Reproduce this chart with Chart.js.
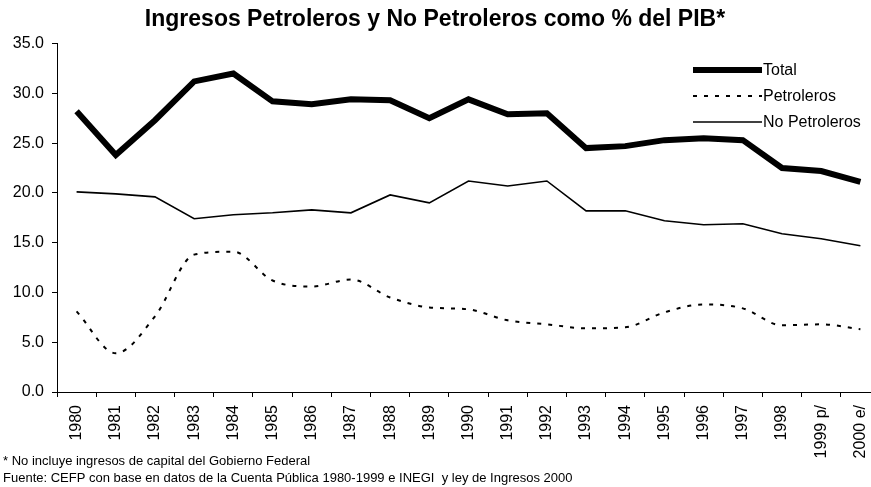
<!DOCTYPE html>
<html>
<head>
<meta charset="utf-8">
<script src="https://cdn.jsdelivr.net/npm/chart.js@4/dist/chart.umd.min.js"></script>
<style>
  html, body { margin: 0; padding: 0; background: #fff; overflow: hidden; }
  #wrap { width: 871px; height: 487px; position: relative; overflow: hidden; }
</style>
</head>
<body>
<div id="wrap"><canvas id="c" width="890" height="487"></canvas></div>
<script>
const categories = ['1980','1981','1982','1983','1984','1985','1986','1987','1988','1989','1990','1991','1992','1993','1994','1995','1996','1997','1998','1999 p/','2000 e/'];
const total = [28.2, 23.8, 27.3, 31.2, 32.0, 29.2, 28.9, 29.4, 29.3, 27.5, 29.4, 27.9, 28.0, 24.5, 24.7, 25.3, 25.5, 25.3, 22.5, 22.2, 21.1];
const petroleros = [8.1, 3.9, 7.6, 13.8, 14.1, 11.2, 10.6, 11.3, 9.5, 8.5, 8.3, 7.2, 6.8, 6.4, 6.5, 8.0, 8.8, 8.4, 6.7, 6.8, 6.3];
const noPetroleros = [20.1, 19.9, 19.6, 17.4, 17.8, 18.0, 18.3, 18.0, 19.8, 19.0, 21.2, 20.7, 21.2, 18.2, 18.2, 17.2, 16.8, 16.9, 15.9, 15.4, 14.7];
const yTicks = [0, 5, 10, 15, 20, 25, 30, 35];
const titleText = 'Ingresos Petroleros y No Petroleros como % del PIB*';
const footnotes = ['* No incluye ingresos de capital del Gobierno Federal',
                   'Fuente: CEFP con base en datos de la Cuenta Pública 1980-1999 e INEGI  y ley de Ingresos 2000'];

const FONT = 'Arial, "Liberation Sans", sans-serif';

const legendAndNotes = {
  id: 'legendAndNotes',
  afterDraw(chart) {
    const ctx = chart.ctx;
    ctx.save();
    const x0 = 693, x1 = 762;
    const ys = [70, 96, 122];
    chart.data.datasets.forEach((ds, i) => {
      const y = ys[i];
      ctx.beginPath();
      ctx.strokeStyle = ds.borderColor;
      ctx.lineWidth = ds.borderWidth;
      ctx.setLineDash(ds.borderDash || []);
      ctx.moveTo(x0, y);
      ctx.lineTo(x1, y);
      ctx.stroke();
      ctx.setLineDash([]);
      ctx.fillStyle = '#000';
      ctx.font = '16px ' + FONT;
      ctx.textAlign = 'left';
      ctx.textBaseline = 'middle';
      ctx.fillText(ds.label, x1 + 1, y + 1);
    });
    ctx.font = '13px ' + FONT;
    ctx.textBaseline = 'middle';
    ctx.fillText(footnotes[0], 3, 461);
    ctx.fillText(footnotes[1], 3, 478);
    ctx.restore();
  }
};

new Chart(document.getElementById('c'), {
  type: 'line',
  data: {
    labels: categories,
    datasets: [
      { label: 'Total', data: total, borderColor: '#000', borderWidth: 6, pointRadius: 0, tension: 0, fill: false },
      { label: 'Petroleros', data: petroleros, borderColor: '#000', borderWidth: 2, borderDash: [4, 7], pointRadius: 0, cubicInterpolationMode: 'monotone', fill: false },
      { label: 'No Petroleros', data: noPetroleros, borderColor: '#000', borderWidth: 1.6, pointRadius: 0, tension: 0, fill: false }
    ]
  },
  options: {
    responsive: false,
    animation: false,
    layout: { padding: { left: -10, right: 10, top: 0, bottom: 25 } },
    plugins: {
      legend: { display: false },
      tooltip: { enabled: false },
      title: {
        display: true,
        text: titleText,
        color: '#000',
        font: { family: FONT, size: 23, weight: 'bold' },
        padding: { top: 6, bottom: 10 }
      }
    },
    scales: {
      x: {
        type: 'category',
        offset: true,
        grid: { display: true, offset: true, drawOnChartArea: false, drawTicks: true, tickLength: 5, color: '#000' },
        border: { display: true, color: '#000', width: 1 },
        ticks: { color: '#000', font: { family: FONT, size: 16 }, maxRotation: 90, minRotation: 90, autoSkip: false, padding: 8 },
        afterFit(scale) { scale.height = 70; }
      },
      y: {
        min: 0,
        max: 35,
        afterBuildTicks(scale) { scale.ticks = yTicks.map(v => ({ value: v })); },
        grid: { display: true, drawOnChartArea: false, drawTicks: true, tickLength: 5, color: '#000' },
        border: { display: true, color: '#000', width: 1 },
        ticks: { color: '#000', font: { family: FONT, size: 16 }, padding: 8, callback: v => Number(v).toFixed(1) },
        afterFit(scale) { scale.width = 67; }
      }
    }
  },
  plugins: [legendAndNotes]
});
</script>
</body>
</html>
